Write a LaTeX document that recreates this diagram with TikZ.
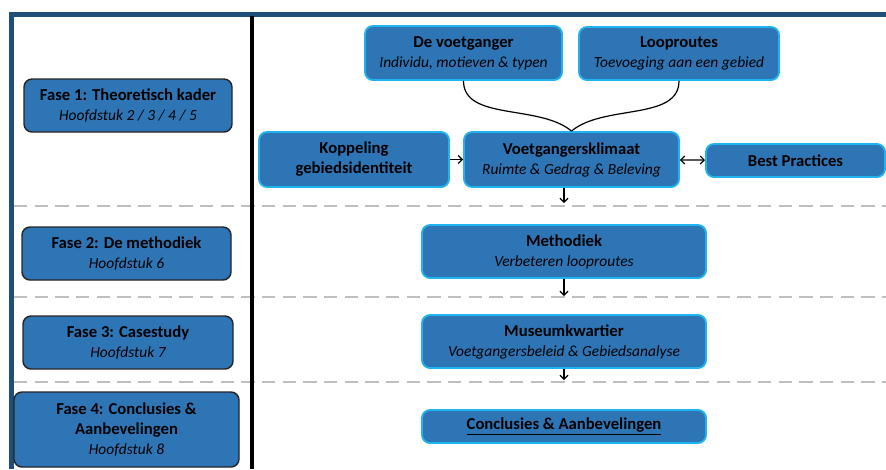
\documentclass[tikz,border=0pt]{standalone}
\usepackage{fontspec}
\setmainfont{Carlito}
\usepackage{xcolor}
\usetikzlibrary{arrows.meta, calc, positioning}

\definecolor{kaderblauw}{HTML}{2E75B6}
\definecolor{randblauw}{HTML}{1F4E79}
\definecolor{gloedblauw}{HTML}{1FB4F0}
\definecolor{streepgrijs}{HTML}{BFBFBF}

\newcommand{\ondertitel}[1]{{\fontsize{11.6}{15}\selectfont\itshape #1}}

\tikzset{
  fasebox/.style={draw=black!85, line width=1.1pt, fill=kaderblauw, rounded corners=6pt,
    align=center, inner sep=0pt, font=\fontsize{12.5}{15}\selectfont},
  stapbox/.style={draw=gloedblauw, line width=1.4pt, fill=kaderblauw, rounded corners=6pt,
    align=center, inner sep=0pt, font=\fontsize{12.5}{15}\selectfont},
  scheiding/.style={streepgrijs, line width=2.2pt, dash pattern=on 10pt off 5.5pt},
  pijl/.style={->, line width=0.9pt},
  boog/.style={line width=0.9pt}
}

\begin{document}
\begin{tikzpicture}[x=0.75pt, y=-0.75pt, >={Straight Barb[length=3pt,width=6pt]}]
    \useasboundingbox (0,0) rectangle (886,469);

    % Scheidingslijnen tussen de fasen
    \coordinate (sep1) at (14,206);
    \coordinate (sep2) at (14,297);
    \coordinate (sep3) at (14,382);
    \foreach \s in {sep1, sep2, sep3}
        \draw[scheiding] (\s) -- (\s -| 886,0);

    % Kader en middenlijn
    \draw[randblauw, line width=3.8pt] (11.5,469) -- (11.5,14.5) -- (886,14.5);
    \draw[black, line width=3pt] (251.5,16) -- (251.5,469);

    % Fasen (links)
    \node[fasebox, minimum width=156pt, minimum height=39.75pt] (fase1) at (128,105.5)
        {\textbf{Fase 1: Theoretisch kader}\\\ondertitel{Hoofdstuk 2 / 3 / 4 / 5}};
    \node[fasebox, minimum width=156.75pt, minimum height=39.75pt] (fase2) at (126.5,253.5)
        {\textbf{Fase 2: De methodiek}\\\ondertitel{Hoofdstuk 6}};
    \node[fasebox, minimum width=157.5pt, minimum height=39.75pt] (fase3) at (128,342.5)
        {\textbf{Fase 3: Casestudy}\\\ondertitel{Hoofdstuk 7}};
    \node[fasebox, minimum width=168.75pt, minimum height=56.25pt] (fase4) at (126.5,429.5)
        {\textbf{Fase 4: Conclusies \&}\\\textbf{Aanbevelingen}\\\ondertitel{Hoofdstuk 8}};

    % Stappen (rechts)
    \node[stapbox, minimum width=147.75pt, minimum height=40.5pt] (voetganger) at (463.5,53)
        {\textbf{De voetganger}\\\ondertitel{Individu, motieven \& typen}};
    \node[stapbox, minimum width=150pt, minimum height=39.75pt] (looproutes) at (679,53.5)
        {\textbf{Looproutes}\\\ondertitel{Toevoeging aan een gebied}};
    \node[stapbox, minimum width=142.5pt, minimum height=41.25pt] (koppeling) at (354,159.5)
        {\textbf{Koppeling}\\\textbf{gebiedsidentiteit}};
    \node[stapbox, minimum width=161.25pt, minimum height=41.25pt] (klimaat) at (571.5,159.5)
        {\textbf{Voetgangersklimaat}\\\ondertitel{Ruimte \& Gedrag \& Beleving}};
    \node[stapbox, minimum width=134.25pt, minimum height=24.75pt] (best) at (795.5,160.5)
        {\textbf{Best Practices}};
    \node[stapbox, minimum width=213pt, minimum height=39.75pt] (methodiek) at (564,251.5)
        {\textbf{Methodiek}\\\ondertitel{Verbeteren looproutes}};
    \node[stapbox, minimum width=213pt, minimum height=39.75pt] (museum) at (564,341.5)
        {\textbf{Museumkwartier}\\\ondertitel{Voetgangersbeleid \& Gebiedsanalyse}};
    \node[stapbox, minimum width=213pt, minimum height=24.75pt] (conclusies) at (564,426.5)
        {\textbf{\underline{Conclusies \& Aanbevelingen}}};

    % Verbindingen
    \draw[boog] (voetganger.south) .. controls +(0,40) and +(-32,-27) .. (klimaat.north);
    \draw[boog] (looproutes.south) .. controls +(0,40) and +(32,-27) .. (klimaat.north);
    \draw[pijl] (koppeling) -- (klimaat);
    \draw[pijl, <->] (klimaat) -- (best);
    \coordinate (eind1) at ($(methodiek.north |- sep1)+(0,-3)$);
    \coordinate (eind2) at ($(museum.north |- sep2)+(0,-1)$);
    \coordinate (eind3) at ($(museum.north |- sep3)+(0,-2)$);
    \draw[pijl] (methodiek.north |- klimaat.south) -- (eind1);
    \draw[pijl] (methodiek.south) -- (eind2);
    \draw[pijl] (museum.south) -- (eind3);
\end{tikzpicture}
\end{document}
